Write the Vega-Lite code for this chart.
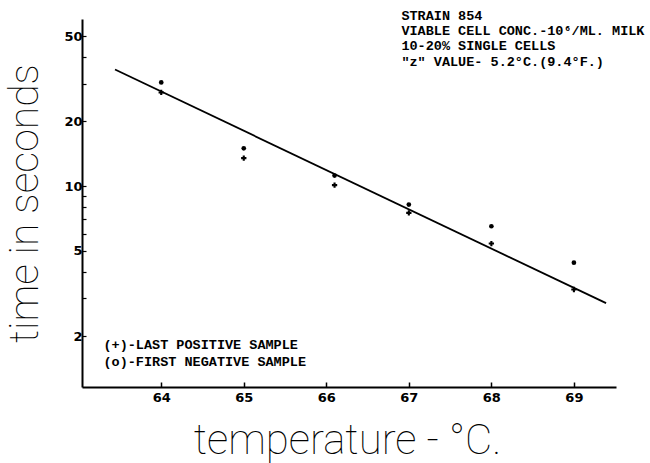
{
  "$schema": "https://vega.github.io/schema/vega-lite/v6.json",
  "width": 534,
  "height": 368,
  "autosize": "none",
  "padding": {"left": 82, "top": 19, "right": 34, "bottom": 76},
  "background": "white",
  "config": {"view": {"stroke": null}},
  "datasets": {
    "points": [
      {"temp": 64, "time": 30.4, "sample": "first negative"},
      {"temp": 64, "time": 27.3, "sample": "last positive"},
      {"temp": 65, "time": 15.0, "sample": "first negative"},
      {"temp": 65, "time": 13.5, "sample": "last positive"},
      {"temp": 66.1, "time": 11.2, "sample": "first negative"},
      {"temp": 66.1, "time": 10.1, "sample": "last positive"},
      {"temp": 67, "time": 8.2, "sample": "first negative"},
      {"temp": 67, "time": 7.5, "sample": "last positive"},
      {"temp": 68, "time": 6.5, "sample": "first negative"},
      {"temp": 68, "time": 5.4, "sample": "last positive"},
      {"temp": 69, "time": 4.4, "sample": "first negative"},
      {"temp": 69, "time": 3.3, "sample": "last positive"}
    ],
    "fit": [
      {"temp": 63.44, "time": 34.9},
      {"temp": 69.39, "time": 2.85}
    ],
    "notes": [
      {"temp": 66.91, "time": 61.8, "label": "STRAIN 854"},
      {"temp": 66.91, "time": 52.5, "label": "VIABLE CELL CONC.-10⁶/ML. MILK"},
      {"temp": 66.91, "time": 44.7, "label": "10-20% SINGLE CELLS"},
      {"temp": 66.91, "time": 38.0, "label": "\"z\" VALUE- 5.2°C.(9.4°F.)"},
      {"temp": 63.3, "time": 1.82, "label": "(+)-LAST POSITIVE SAMPLE"},
      {"temp": 63.3, "time": 1.52, "label": "(o)-FIRST NEGATIVE SAMPLE"}
    ]
  },
  "encoding": {
    "x": {
      "field": "temp",
      "type": "quantitative",
      "scale": {"domain": [63.04, 69.51], "nice": false, "zero": false},
      "axis": {
        "title": "temperature - °C.",
        "values": [64, 65, 66, 67, 68, 69],
        "grid": false,
        "domainColor": "black",
        "domainWidth": 2,
        "tickColor": "black",
        "tickSize": -5,
        "tickWidth": 1.5,
        "labelPadding": 9,
        "labelFont": "DejaVu Sans",
        "labelFontSize": 13,
        "labelFontWeight": "bold",
        "labelColor": "black",
        "titleFont": "Roboto",
        "titleFontWeight": 100,
        "titleFontSize": 42,
        "titleColor": "black",
        "titleX": 265,
        "titleY": 53,
        "titleAlign": "center",
        "titleBaseline": "middle"
      }
    },
    "y": {
      "field": "time",
      "type": "quantitative",
      "scale": {"type": "log", "domain": [1.16, 60], "nice": false},
      "axis": {
        "title": "time in seconds",
        "values": [2, 3, 4, 5, 6, 7, 8, 9, 10, 20, 30, 40, 50],
        "labelExpr": "indexof([2,5,10,20,50], datum.value) >= 0 ? datum.label : ''",
        "grid": false,
        "domainColor": "black",
        "domainWidth": 2,
        "tickColor": "black",
        "tickSize": -4,
        "tickWidth": 1.2,
        "labelPadding": 4,
        "labelFont": "DejaVu Sans",
        "labelFontSize": 13,
        "labelFontWeight": "bold",
        "labelColor": "black",
        "titleFont": "Roboto",
        "titleFontWeight": 100,
        "titleFontSize": 41,
        "titleColor": "black",
        "titleAngle": 270,
        "titleX": -57,
        "titleY": 184,
        "titleAlign": "center",
        "titleBaseline": "middle"
      }
    }
  },
  "layer": [
    {
      "data": {"name": "fit"},
      "mark": {"type": "line", "color": "black", "strokeWidth": 1.8}
    },
    {
      "data": {"name": "points"},
      "transform": [{"filter": "datum.sample == 'first negative'"}],
      "mark": {"type": "point", "shape": "circle", "filled": true, "color": "black", "size": 22, "opacity": 1}
    },
    {
      "data": {"name": "points"},
      "transform": [{"filter": "datum.sample == 'last positive'"}],
      "mark": {"type": "point", "shape": "cross", "filled": true, "color": "black", "size": 28, "opacity": 1}
    },
    {
      "data": {"name": "notes"},
      "mark": {"type": "text", "align": "left", "baseline": "middle", "font": "Liberation Mono", "fontWeight": "bold", "fontSize": 13.5, "color": "black", "clip": false},
      "encoding": {"text": {"field": "label"}}
    }
  ]
}
